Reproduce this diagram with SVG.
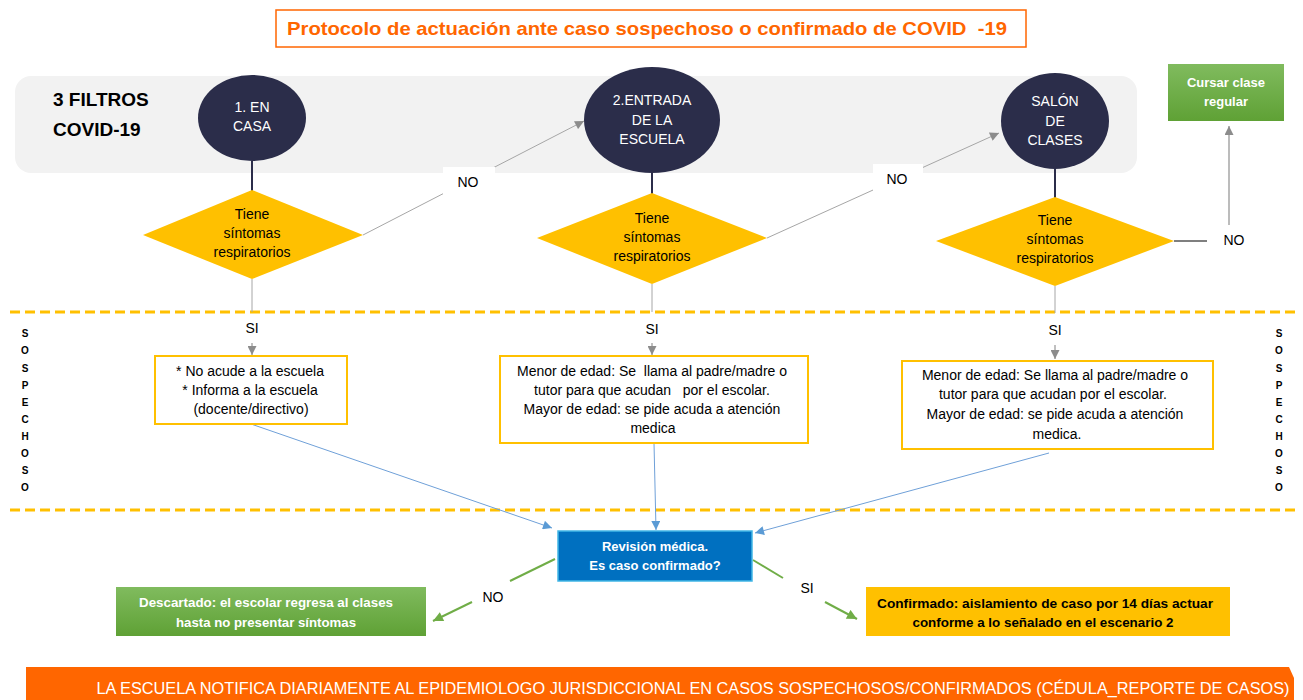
<svg xmlns="http://www.w3.org/2000/svg" width="1303" height="700" viewBox="0 0 1303 700">
<style>
text{font-family:"Liberation Sans",Arial,sans-serif;dominant-baseline:central;text-anchor:middle;white-space:pre}
.t14{font-size:14px;fill:#000}
.w14{font-size:14px;fill:#fff}
.wb{font-size:13px;font-weight:bold;fill:#fff}
.bb{font-size:13px;font-weight:bold;fill:#000}
.circ{fill:#2B2D4A}
.dia{fill:#FFC000}
.obox{fill:#fff;stroke:#FFC000;stroke-width:2}
.sos{font-size:10px;font-weight:bold;fill:#000}
.gray{stroke:#A6A6A6;stroke-width:1;fill:none}
.blue{stroke:#6FA0D8;stroke-width:1;fill:none}
.green{stroke:#70AD47;stroke-width:2;fill:none}
.dash{stroke:#FFC000;stroke-width:3;stroke-dasharray:10 5;fill:none}
</style>
<defs>
<marker id="ag" viewBox="0 0 10 10" refX="10" refY="5" markerWidth="10" markerHeight="9" markerUnits="userSpaceOnUse" orient="auto"><path d="M0,0 L10,5 L0,10 z" fill="#8C8C8C"/></marker>
<marker id="ab" viewBox="0 0 10 10" refX="10" refY="5" markerWidth="11" markerHeight="9" markerUnits="userSpaceOnUse" orient="auto"><path d="M0,0 L10,5 L0,10 z" fill="#5B9BD5"/></marker>
<marker id="agr" viewBox="0 0 10 10" refX="10" refY="5" markerWidth="12" markerHeight="10" markerUnits="userSpaceOnUse" orient="auto"><path d="M0,0 L10,5 L0,10 z" fill="#70AD47"/></marker>
<linearGradient id="gg" x1="0" y1="0" x2="0" y2="1"><stop offset="0" stop-color="#80BB5E"/><stop offset="1" stop-color="#5FA135"/></linearGradient>
</defs>

<g id="title">
<rect x="276" y="10" width="750" height="37" fill="#fff" stroke="#FF6600" stroke-width="1.5"/>
<text x="647" y="28" font-size="19" font-weight="bold" fill="#FF6600" textLength="720" lengthAdjust="spacingAndGlyphs">Protocolo de actuación ante caso sospechoso o confirmado de COVID  -19</text>
</g>

<g id="band">
<rect x="15" y="76" width="1122" height="97" rx="16" fill="#F2F2F2"/>
<text x="53" y="99" font-size="19" font-weight="bold" fill="#000" style="text-anchor:start">3 FILTROS</text>
<text x="53" y="129" font-size="19" font-weight="bold" fill="#000" style="text-anchor:start">COVID-19</text>
</g>

<g id="dashes">
<line class="dash" x1="10" y1="312" x2="1297" y2="312"/>
<line class="dash" x1="10" y1="510" x2="1297" y2="510"/>
</g>

<g id="sospechoso-left">
<text class="sos" x="25" y="333">S</text><text class="sos" x="25" y="350">O</text><text class="sos" x="25" y="368">S</text><text class="sos" x="25" y="385">P</text><text class="sos" x="25" y="402">E</text><text class="sos" x="25" y="419">C</text><text class="sos" x="25" y="436">H</text><text class="sos" x="25" y="453">O</text><text class="sos" x="25" y="470">S</text><text class="sos" x="25" y="487">O</text>
</g>
<g id="sospechoso-right">
<text class="sos" x="1279" y="333">S</text><text class="sos" x="1279" y="350">O</text><text class="sos" x="1279" y="368">S</text><text class="sos" x="1279" y="385">P</text><text class="sos" x="1279" y="402">E</text><text class="sos" x="1279" y="419">C</text><text class="sos" x="1279" y="436">H</text><text class="sos" x="1279" y="453">O</text><text class="sos" x="1279" y="470">S</text><text class="sos" x="1279" y="487">O</text>
</g>

<g id="connectors">
<line x1="252" y1="161" x2="252" y2="191" stroke="#2B2D4A" stroke-width="2"/>
<line x1="652" y1="172" x2="652" y2="194" stroke="#2B2D4A" stroke-width="2"/>
<line x1="1055" y1="168" x2="1055" y2="198" stroke="#2B2D4A" stroke-width="2"/>
<line class="gray" x1="363" y1="235" x2="584" y2="121" marker-end="url(#ag)"/>
<line class="gray" x1="767" y1="238" x2="999" y2="133" marker-end="url(#ag)"/>
<line x1="1174" y1="241" x2="1207" y2="241" stroke="#7F7F7F" stroke-width="2"/>
<line x1="1229" y1="225" x2="1229" y2="126" stroke="#A6A6A6" stroke-width="1.5" marker-end="url(#ag)"/>
<line class="gray" x1="252" y1="279" x2="252" y2="312"/>
<line class="gray" x1="652" y1="284" x2="652" y2="312"/>
<line class="gray" x1="1055" y1="286" x2="1055" y2="313"/>
<line x1="252" y1="343" x2="252" y2="355" stroke="#808080" stroke-width="1" marker-end="url(#ag)"/>
<line x1="652" y1="343" x2="652" y2="355" stroke="#808080" stroke-width="1" marker-end="url(#ag)"/>
<line x1="1055" y1="345" x2="1055" y2="359" stroke="#808080" stroke-width="1" marker-end="url(#ag)"/>
<line class="blue" x1="251" y1="424" x2="552" y2="528" marker-end="url(#ab)"/>
<line class="blue" x1="654" y1="443" x2="656" y2="530" stroke="#8FAADC" marker-end="url(#ab)"/>
<line class="blue" x1="1049" y1="453" x2="755" y2="533" marker-end="url(#ab)"/>
<line class="green" x1="555" y1="559" x2="510" y2="581"/>
<line class="green" x1="472" y1="602" x2="433" y2="621" marker-end="url(#agr)"/>
<line class="green" x1="753" y1="560" x2="783" y2="578"/>
<line class="green" x1="825" y1="602" x2="857" y2="619" marker-end="url(#agr)"/>
<rect x="443" y="167" width="52" height="30" fill="#fff"/>
<text class="t14" x="468" y="182">NO</text>
<rect x="873" y="164" width="50" height="30" fill="#fff"/>
<text class="t14" x="897" y="179">NO</text>
<text class="t14" x="1234" y="240">NO</text>
<text class="t14" x="252" y="328">SI</text>
<text class="t14" x="652" y="329">SI</text>
<text class="t14" x="1055" y="330">SI</text>
<text class="t14" x="493" y="597">NO</text>
<text class="t14" x="807" y="588">SI</text>
</g>

<g id="circle1">
<ellipse class="circ" cx="252" cy="118" rx="54" ry="43"/>
<text class="w14" x="252" y="107">1. EN</text>
<text class="w14" x="252" y="126">CASA</text>
</g>
<g id="circle2">
<ellipse class="circ" cx="652" cy="120" rx="68" ry="53"/>
<text class="w14" x="652" y="100">2.ENTRADA</text>
<text class="w14" x="652" y="120">DE LA</text>
<text class="w14" x="652" y="139">ESCUELA</text>
</g>
<g id="circle3">
<ellipse class="circ" cx="1055" cy="121" rx="54" ry="48"/>
<text class="w14" x="1055" y="101">SALÓN</text>
<text class="w14" x="1055" y="121">DE</text>
<text class="w14" x="1055" y="140">CLASES</text>
</g>

<g id="diamond1">
<polygon class="dia" points="252,190 363,235 252,279 143,235"/>
<text class="t14" x="252" y="214">Tiene</text>
<text class="t14" x="252" y="233">síntomas</text>
<text class="t14" x="252" y="252">respiratorios</text>
</g>
<g id="diamond2">
<polygon class="dia" points="652,193 767,238 652,284 537,238"/>
<text class="t14" x="652" y="218">Tiene</text>
<text class="t14" x="652" y="237">síntomas</text>
<text class="t14" x="652" y="256">respiratorios</text>
</g>
<g id="diamond3">
<polygon class="dia" points="1055,197 1174,241 1055,286 936,241"/>
<text class="t14" x="1055" y="220">Tiene</text>
<text class="t14" x="1055" y="239">síntomas</text>
<text class="t14" x="1055" y="258">respiratorios</text>
</g>

<g id="cursar">
<rect x="1166" y="62" width="120" height="61" fill="#fff" opacity="0.6"/>
<rect x="1168" y="64" width="116" height="57" fill="url(#gg)"/>
<text class="wb" x="1226" y="82">Cursar clase</text>
<text class="wb" x="1226" y="101">regular</text>
</g>

<g id="box1">
<rect class="obox" x="155" y="356" width="192" height="68"/>
<text class="t14" x="250" y="371">* No acude a la escuela</text>
<text class="t14" x="250" y="390">* Informa a la escuela</text>
<text class="t14" x="251" y="409">(docente/directivo)</text>
</g>
<g id="box2">
<rect class="obox" x="500" y="356" width="308" height="87"/>
<text class="t14" x="652" y="371">Menor de edad: Se  llama al padre/madre o</text>
<text class="t14" x="652" y="390">tutor para que acudan   por el escolar.</text>
<text class="t14" x="652" y="409">Mayor de edad: se pide acuda a atención</text>
<text class="t14" x="653" y="428">medica</text>
</g>
<g id="box3">
<rect class="obox" x="902" y="361" width="311" height="88"/>
<text class="t14" x="1055" y="375">Menor de edad: Se llama al padre/madre o</text>
<text class="t14" x="1053" y="394">tutor para que acudan por el escolar.</text>
<text class="t14" x="1055" y="414">Mayor de edad: se pide acuda a atención</text>
<text class="t14" x="1057" y="434">medica.</text>
</g>

<g id="revision">
<rect x="558" y="531" width="194" height="50" fill="#0070C0" stroke="#41B6E6" stroke-width="1.5"/>
<text class="wb" x="655" y="546" font-size="13.5">Revisión médica.</text>
<text class="wb" x="655" y="565" font-size="13.5">Es caso confirmado?</text>
</g>

<g id="descartado">
<rect x="114" y="585" width="314" height="51" fill="#fff" opacity="0.5"/>
<rect x="116" y="587" width="310" height="49" fill="url(#gg)"/>
<text class="wb" x="266" y="602" textLength="254" lengthAdjust="spacingAndGlyphs">Descartado: el escolar regresa al clases</text>
<text class="wb" x="266" y="622" textLength="180" lengthAdjust="spacingAndGlyphs">hasta no presentar síntomas</text>
</g>

<g id="confirmado">
<rect x="866" y="587" width="364" height="49" fill="#FFC000"/>
<text class="bb" x="1045" y="603" textLength="336" lengthAdjust="spacingAndGlyphs">Confirmado: aislamiento de caso por 14 días actuar</text>
<text class="bb" x="1043" y="622" textLength="261" lengthAdjust="spacingAndGlyphs">conforme a lo señalado en el escenario 2</text>
</g>

<g id="notifica">
<polygon points="26,667 1289,667 1294,678 1294,700 26,700" fill="#FF6600"/>
<text x="693" y="688" font-size="16" fill="#fff" textLength="1193" lengthAdjust="spacingAndGlyphs">LA ESCUELA NOTIFICA DIARIAMENTE AL EPIDEMIOLOGO JURISDICCIONAL EN CASOS SOSPECHOSOS/CONFIRMADOS (CÉDULA_REPORTE DE CASOS)</text>
</g>
</svg>
